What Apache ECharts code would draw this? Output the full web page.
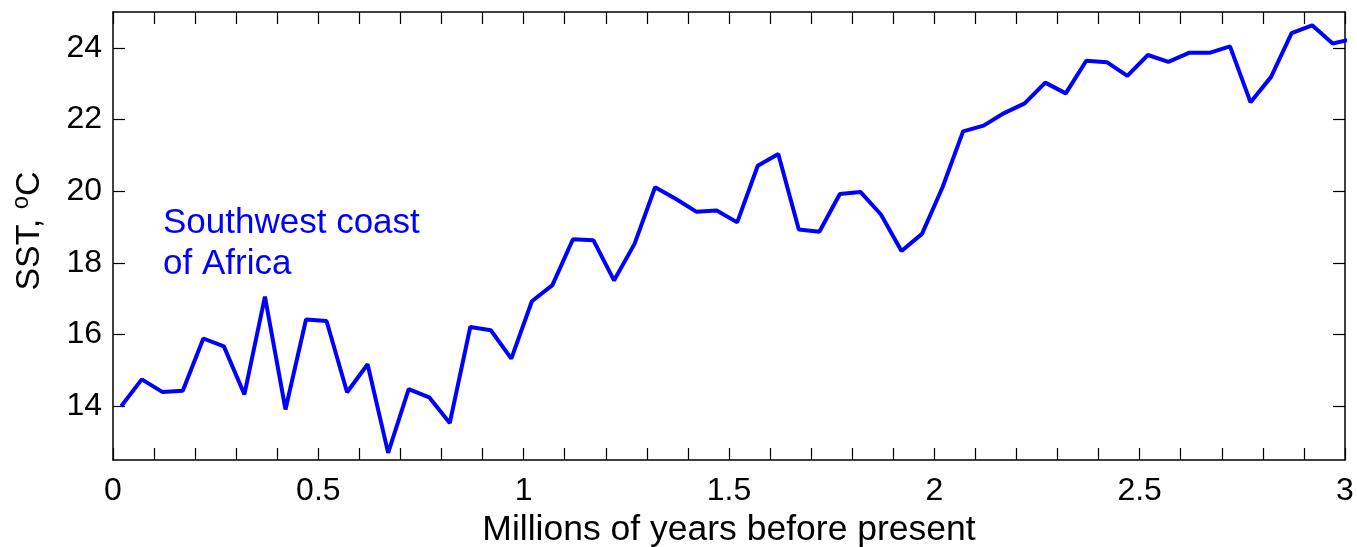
<!DOCTYPE html>
<html>
<head>
<meta charset="utf-8">
<script src="https://cdn.jsdelivr.net/npm/echarts@6/dist/echarts.min.js"></script>
<style>
  html, body { margin: 0; padding: 0; background: #fff; }
  #chart { width: 1357px; height: 547px; }
</style>
</head>
<body>
<div id="chart"></div>
<script>
// age in millions of years before present
const ages = [
  0.02, 0.07, 0.12, 0.17, 0.22, 0.27, 0.32, 0.37, 0.42, 0.47,
  0.52, 0.57, 0.62, 0.67, 0.72, 0.77, 0.82, 0.87, 0.92, 0.97,
  1.02, 1.07, 1.12, 1.17, 1.22, 1.27, 1.32, 1.37, 1.42, 1.47,
  1.52, 1.57, 1.62, 1.67, 1.72, 1.77, 1.82, 1.87, 1.92, 1.97,
  2.02, 2.07, 2.12, 2.17, 2.22, 2.27, 2.32, 2.37, 2.42, 2.47,
  2.52, 2.57, 2.62, 2.67, 2.72, 2.77, 2.82, 2.87, 2.92, 2.97,
  3.02
];
// sea surface temperature, degC
const sst = [
  14.0, 14.75, 14.4, 14.43, 15.89, 15.67, 14.33, 17.06, 13.91, 16.42,
  16.38, 14.39, 15.17, 12.7, 14.48, 14.25, 13.53, 16.21, 16.12, 15.33,
  16.93, 17.38, 18.66, 18.63, 17.51, 18.53, 20.11, 19.79, 19.43, 19.46,
  19.13, 20.71, 21.04, 18.93, 18.87, 19.92, 19.98, 19.35, 18.33, 18.81,
  20.11, 21.67, 21.83, 22.18, 22.45, 23.03, 22.73, 23.64, 23.6, 23.22,
  23.8, 23.61, 23.86, 23.86, 24.04, 22.48, 23.19, 24.41, 24.63, 24.12,
  24.25
];
const xLabels = [0, 0.5, 1, 1.5, 2, 2.5, 3];
const xTicks = [0, 0.1, 0.2, 0.3, 0.4, 0.5, 0.6, 0.7, 0.8, 0.9, 1, 1.1, 1.2, 1.3, 1.4, 1.5,
  1.6, 1.7, 1.8, 1.9, 2, 2.1, 2.2, 2.3, 2.4, 2.5, 2.6, 2.7, 2.8, 2.9, 3];
const yLabels = [14, 16, 18, 20, 22, 24];

const font = 'Liberation Sans, Arial, Helvetica, sans-serif';
const chart = echarts.init(document.getElementById('chart'));

const frameLine = { show: true, onZero: false, lineStyle: { color: '#000', width: 1.5 } };
const tickStyle = { color: '#000', width: 1.2 };

chart.setOption({
  animation: false,
  grid: { left: 113, right: 12, top: 12, bottom: 87, containLabel: false, outerBoundsMode: 'none' },
  xAxis: [
    {
      type: 'value', min: 0, max: 3,
      name: 'Millions of years before present',
      nameLocation: 'middle', nameGap: 50,
      nameTextStyle: { fontFamily: font, fontSize: 35.5, color: '#000' },
      axisLine: frameLine,
      axisTick: { show: true, inside: true, length: 12, customValues: xTicks, lineStyle: tickStyle },
      axisLabel: { customValues: xLabels, fontFamily: font, fontSize: 32, color: '#000', margin: 15 },
      splitLine: { show: false }
    },
    {
      type: 'value', min: 0, max: 3, position: 'top',
      axisLine: frameLine,
      axisTick: { show: true, inside: true, length: 12, customValues: xTicks, lineStyle: tickStyle },
      axisLabel: { show: false },
      splitLine: { show: false }
    }
  ],
  yAxis: [
    {
      type: 'value', min: 12.5, max: 25,
      name: '{a|SST, }{s|o}{a|C}',
      nameLocation: 'middle', nameGap: 66, nameRotate: 90,
      nameTextStyle: {
        fontFamily: font, fontSize: 34, color: '#000', padding: [0, 0, 0, 10],
        rich: {
          a: { fontFamily: font, fontSize: 34, color: '#000', lineHeight: 38, verticalAlign: 'bottom' },
          s: { fontFamily: font, fontSize: 24, color: '#000', lineHeight: 38, verticalAlign: 'top' }
        }
      },
      axisLine: frameLine,
      axisTick: { show: true, inside: true, length: 12, customValues: yLabels, lineStyle: tickStyle },
      axisLabel: { customValues: yLabels, fontFamily: font, fontSize: 32, color: '#000', margin: 11 },
      splitLine: { show: false }
    },
    {
      type: 'value', min: 12.5, max: 25, position: 'right',
      axisLine: frameLine,
      axisTick: { show: true, inside: true, length: 12, customValues: yLabels, lineStyle: tickStyle },
      axisLabel: { show: false },
      splitLine: { show: false }
    }
  ],
  graphic: [
    {
      type: 'text', left: 163, top: 203,
      style: {
        text: 'Southwest coast\nof Africa',
        fontFamily: font, fontSize: 35, lineHeight: 41, fill: '#0000ff'
      }
    }
  ],
  series: [
    {
      type: 'line',
      data: ages.map((a, i) => [a, sst[i]]),
      showSymbol: false,
      clip: true,
      lineStyle: { color: '#0000ff', width: 4 },
      z: 1
    }
  ]
});
</script>
</body>
</html>
